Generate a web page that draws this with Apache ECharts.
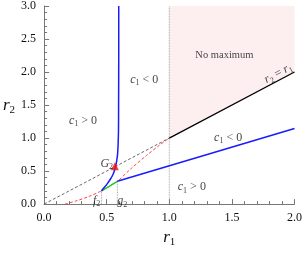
<!DOCTYPE html>
<html><head><meta charset="utf-8">
<script src="https://cdn.jsdelivr.net/npm/echarts@6/dist/echarts.min.js"></script>
<style>html,body{margin:0;padding:0;background:#fff}#c{width:305px;height:253px}</style>
</head><body><div id="c"></div>
<script>
// ---- data ----
const xTicks = [0.0, 0.5, 1.0, 1.5, 2.0];
const yTicks = [0.0, 0.5, 1.0, 1.5, 2.0, 2.5, 3.0];
const pinkRegion = [[1, 1], [2, 2], [2, 3], [1, 3]];
const diagDashed = [[0, 0], [1, 1]];
const diagSolid = [[1, 1], [2, 2]];
const vLine1 = [[1, 0], [1, 3]];
const vLineF2 = [[0.458, 0], [0.458, 0.2]];
const vLineG2 = [[0.585, 0], [0.585, 0.345]];
const redCurve = [[0.167, 0], [0.25, 0.045], [0.35, 0.11], [0.458, 0.2], [0.52, 0.27], [0.585, 0.345], [0.69, 0.53], [0.82, 0.74], [0.92, 0.89], [1.0, 1.0]];
const greenSeg = [[0.458, 0.2], [0.52, 0.27], [0.585, 0.345]];
const blueCurve = [[0.458, 0.2], [0.48, 0.25], [0.505, 0.31], [0.53, 0.38], [0.548, 0.44], [0.562, 0.51], [0.572, 0.58], [0.58, 0.66], [0.587, 0.76], [0.591, 0.9], [0.594, 1.1], [0.595, 1.5], [0.596, 2.2], [0.596, 3.0]];
const blueLine = [[0.585, 0.345], [2, 1.146]];
const pointG2 = [[0.565, 0.572]];
const labelTexts = ['{i|c}{s|1} > 0', '{i|c}{s|1} < 0', '{n|No maximum}', '{i|c}{s|1} < 0', '{i|c}{s|1} > 0', '{i|G}{s|2}', '{i|f}{s|2}', '{i|g}{s|2}'];
const labelPos = [[0.31, 1.31], [0.8, 1.93], [1.44, 2.3], [1.47, 1.05], [1.18, 0.3], [0.5, 0.66], [0.42, 0.1], [0.625, 0.09]];
const diagLabel = ['{i|r}{s|2} = {i|r}{s|1}'];
const diagLabelPos = [[1.87, 1.98]];

const SERIF = 'Liberation Serif';
const rich = {
  i: {fontStyle: 'italic', fontFamily: SERIF, fontSize: 12, color: '#111'},
  s: {fontFamily: SERIF, fontSize: 8, color: '#111', padding: [7, 0, 0, 0]},
  n: {fontFamily: SERIF, fontSize: 10.5, color: '#111'}
};
const nameRich = {
  i: {fontStyle: 'italic', fontFamily: SERIF, fontSize: 17, color: '#111'},
  s: {fontFamily: SERIF, fontSize: 11, color: '#111', padding: [10, 0, 0, 0]}
};

function lineS(data, color, width, type, z) {
  return {type: 'line', data: data, symbol: 'none', showSymbol: false, silent: true,
    lineStyle: {color: color, width: width, type: type || 'solid'}, z: z || 2, animation: false};
}

const chart = echarts.init(document.getElementById('c'), null, {renderer: 'canvas'});
const axisCommon = {
  type: 'value', splitLine: {show: false},
  axisLine: {show: true, lineStyle: {color: '#777', width: 1}},
  axisTick: {show: true, inside: true, length: 5, lineStyle: {color: '#777'}},
  minorTick: {show: true, splitNumber: 5, length: 3, lineStyle: {color: '#777'}},
  minorSplitLine: {show: false},
  axisLabel: {fontFamily: SERIF, fontSize: 12, color: '#111', formatter: v => v.toFixed(1)}
};
chart.setOption({
  animation: false,
  grid: {left: 42, right: 7, top: 5, bottom: 42, containLabel: false},
  xAxis: Object.assign({}, axisCommon, {
    min: xTicks[0], max: xTicks[xTicks.length - 1], interval: xTicks[1] - xTicks[0],
    name: '{i|r}{s|1}', nameLocation: 'middle', nameGap: 22,
    nameTextStyle: {rich: nameRich}
  }),
  yAxis: Object.assign({}, axisCommon, {
    min: yTicks[0], max: yTicks[yTicks.length - 1], interval: yTicks[1] - yTicks[0],
    name: '{i|r}{s|2}', nameLocation: 'middle', nameGap: 29, nameRotate: 0,
    nameTextStyle: {rich: nameRich, align: 'right'}
  }),
  series: [
    {type: 'custom', data: pinkRegion, silent: true, z: 1,
      renderItem: function (params, api) {
        if (params.dataIndex !== 0) return null;
        const pts = pinkRegion.map(p => api.coord(p));
        return {type: 'polygon', shape: {points: pts}, style: {fill: '#fdeef0'}};
      }},
    lineS(vLine1, '#888', 0.8, 'dotted'),
    lineS(vLineF2, '#888', 0.8, 'dotted'),
    lineS(vLineG2, '#888', 0.8, 'dotted'),
    lineS(diagDashed, '#444', 0.8, [3, 2]),
    lineS(diagSolid, '#000', 1.3, 'solid'),
    Object.assign(lineS(redCurve, '#ff3030', 0.9, [3, 2], 3), {smooth: 0.3}),
    Object.assign(lineS(greenSeg, '#22cc22', 1.5, 'solid', 4), {smooth: 0.3}),
    Object.assign(lineS(blueCurve, '#1a1aff', 1.5, 'solid', 4), {smooth: 0.3}),
    lineS(blueLine, '#1a1aff', 1.5, 'solid', 4),
    {type: 'scatter', data: pointG2, symbol: 'triangle', symbolSize: 8, itemStyle: {color: '#ee1111'}, z: 5, silent: true},
    {type: 'scatter', data: labelPos.map((p, k) => ({value: p, name: labelTexts[k]})), symbolSize: 0, silent: true, z: 6,
      label: {show: true, position: 'inside', offset: [0, 3], formatter: p => p.name, fontFamily: SERIF, fontSize: 12, color: '#111', rich: rich}},
    {type: 'scatter', data: diagLabelPos.map((p, k) => ({value: p, name: diagLabel[k]})), symbolSize: 0, silent: true, z: 6,
      label: {show: true, position: 'inside', rotate: 28, formatter: p => p.name, fontFamily: SERIF, fontSize: 12, color: '#111', rich: rich}}
  ]
});
</script>
</body></html>
